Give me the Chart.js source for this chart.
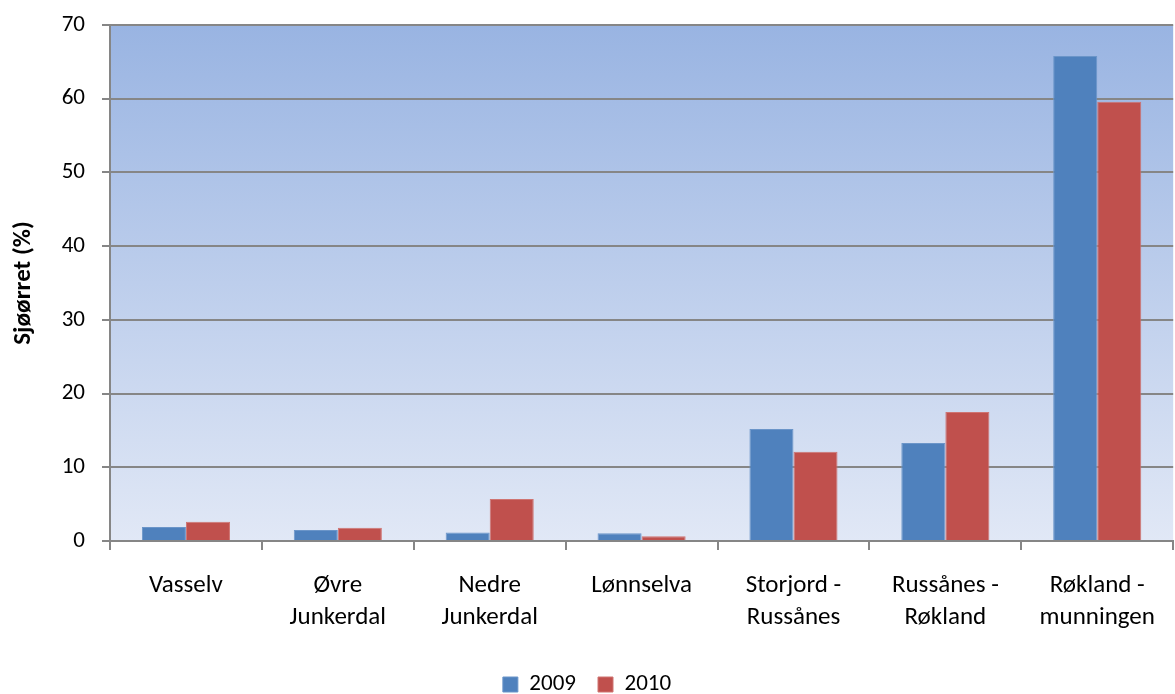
<!DOCTYPE html>
<html>
<head>
<meta charset="utf-8">
<script src="https://cdn.jsdelivr.net/npm/chart.js@4.4.1/dist/chart.umd.min.js"></script>
<style>
  html, body { margin: 0; padding: 0; background: #fff; }
  #wrap { width: 1175px; height: 694px; }
</style>
</head>
<body>
<div id="wrap"><canvas id="grafSjoorret"></canvas></div>
<script>
// Data lest av figuren
const strekninger = [
    'Vasselv',
    ['Øvre', 'Junkerdal'],
    ['Nedre', 'Junkerdal'],
    'Lønnselva',
    ['Storjord -', 'Russånes'],
    ['Russånes -', 'Røkland'],
    ['Røkland -', 'munningen']
];
const verdier2009 = [1.9, 1.5, 1.15, 1.05, 15.2, 13.3, 65.8];
const verdier2010 = [2.6, 1.8, 5.7, 0.65, 12.1, 17.5, 59.6];
const yTicks = [0, 10, 20, 30, 40, 50, 60, 70];

const fontFamily = 'Carlito, Lato, "Open Sans", sans-serif';

// Gradient bak plottet (som i Excel)
const bakgrunn = {
    id: 'bakgrunn',
    beforeDraw(chart) {
        const { ctx, chartArea: a } = chart;
        const g = ctx.createLinearGradient(0, a.top, 0, a.bottom);
        g.addColorStop(0, '#99b4e2');
        g.addColorStop(1, '#e1e8f6');
        ctx.save();
        ctx.fillStyle = g;
        ctx.fillRect(a.left, a.top, a.right - a.left, a.bottom - a.top);
        ctx.restore();
    }
};

const config = {
    type: 'bar',
    data: {
        labels: strekninger,
        datasets: [{
            label: '2009',
            data: verdier2009,
            backgroundColor: '#4f81bd',
            borderColor: '#6b95c9',
            borderWidth: 1,
            categoryPercentage: 0.58,
            barPercentage: 1.0
        }, {
            label: '2010',
            data: verdier2010,
            backgroundColor: '#c0504d',
            borderColor: '#cf7472',
            borderWidth: 1,
            categoryPercentage: 0.58,
            barPercentage: 1.0
        }]
    },
    options: {
        responsive: true,
        maintainAspectRatio: false,
        animation: false,
        layout: { padding: { top: 0, right: 1, left: 0, bottom: -12 } },
        plugins: {
            legend: {
                position: 'bottom',
                labels: {
                    boxWidth: 15,
                    boxHeight: 15,
                    padding: 22,
                    color: '#000',
                    font: { family: fontFamily, size: 23 }
                }
            },
            tooltip: { enabled: false }
        },
        scales: {
            x: {
                grid: {
                    offset: true,
                    drawOnChartArea: false,
                    color: '#868686',
                    lineWidth: 2,
                    tickLength: 9
                },
                border: { color: '#868686', width: 2 },
                ticks: {
                    color: '#000',
                    padding: 20,
                    maxRotation: 0,
                    autoSkip: false,
                    font: { family: fontFamily, size: 25, lineHeight: 1.27 }
                },
                afterFit(scale) { scale.height = 110; }
            },
            y: {
                min: 0,
                max: 70,
                afterBuildTicks(scale) { scale.ticks = yTicks.map(v => ({ value: v })); },
                grid: {
                    color: '#868686',
                    lineWidth: 2,
                    tickLength: 8
                },
                border: { color: '#868686', width: 2 },
                ticks: {
                    color: '#000',
                    padding: 17,
                    font: { family: fontFamily, size: 23 }
                },
                title: {
                    display: true,
                    text: 'Sjøørret (%)',
                    color: '#000',
                    font: { family: fontFamily, size: 25, weight: 'bold' },
                    padding: { top: 9, bottom: 4 }
                },
                afterFit(scale) {
                    scale.width = 110;
                    scale.paddingTop = 25;
                }
            }
        }
    },
    plugins: [bakgrunn]
};

var grafSjoorret = new Chart(document.getElementById('grafSjoorret'), config);
</script>
</body>
</html>
